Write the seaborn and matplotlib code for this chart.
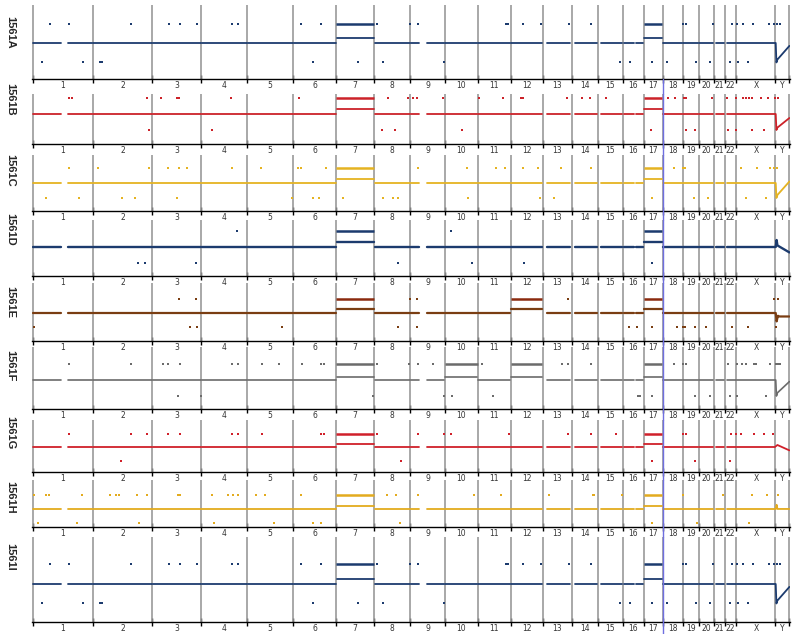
import matplotlib
matplotlib.use("Agg")
import matplotlib.pyplot as plt
import matplotlib.transforms as mtransforms
import numpy as np
import pandas as pd
import seaborn as sns

# ---------------- data ----------------
CHROMS = [str(i) for i in range(1, 23)] + ["X", "Y"]
CHROM_SIZE = [60, 60, 49, 46, 46, 43, 38, 36, 35, 33, 33, 32, 29, 26, 25, 21, 19, 20, 16, 15, 11, 12, 39, 14]
COVERED = {"1": [(0.5, 28), (35, 59.5)], "9": [(0.5, 9), (17, 34.5)], "13": [(4, 27.5)],
           "14": [(3, 25.5)], "15": [(3, 24.5)], "16": [(1, 11), (13, 20.5)],
           "21": [(2, 10)], "22": [(2, 11.5)]}

SAMPLES = ["1561A", "1561B", "1561C", "1561D", "1561E", "1561F", "1561G", "1561H", "1561I"]
COLORS = ["#1c3b6e", "#cc2229", "#e5b321", "#1c3b6e", "#7a3d12", "#6b6b6b", "#d0202a", "#e3ab1e", "#1c3b6e"]
BAR_COLORS = ["#1c3b6e", "#cc2229", "#e5b321", "#1c3b6e", "#8b2a0e", "#6b6b6b", "#d0202a", "#e3ab1e", "#1c3b6e"]

GAINS_A = {"7": 0.26, "17": 0.26}
GAINS_B = {"7": 0.31, "17": 0.3}
GAINS_C = {"7": 0.27, "17": 0.25}
GAINS_D = {"7": 0.3, "17": 0.3}
GAINS_E = {"7": 0.29, "12": 0.3, "17": 0.3}
GAINS_F = {"7": 0.2, "10": 0.2, "12": 0.2, "17": 0.2}
GAINS_G = {"7": 0.25, "17": 0.25}
GAINS_H = {"7": 0.24, "17": 0.24}
GAINS_I = {"7": 0.26, "17": 0.26}

TOP_A = [17, 36, 99, 137, 148, 165, 200, 206, 269, 289, 345, 378, 386, 474, 476, 491, 509, 537, 559,
         651, 654, 681, 701, 706, 712, 722, 738, 743, 746, 749]
BOT_A = [9, 50, 68, 70, 281, 326, 351, 412, 588, 598, 620, 635, 664, 678, 699, 707, 717]
TOP_B = [36, 39, 115, 129, 145, 147, 199, 267, 356, 376, 381, 385, 411, 447, 471, 489, 491, 535, 550,
         558, 574, 636, 643, 652, 654, 680, 696, 705, 712, 715, 718, 721, 730, 737, 744, 747]
BOT_B = [117, 180, 350, 363, 430, 619, 654, 663, 697, 705, 721, 733]
TOP_C = [36, 66, 117, 136, 147, 155, 200, 229, 266, 269, 294, 386, 435, 464, 473, 491, 506, 529, 559,
         642, 651, 653, 710, 726, 739, 743, 746]
BOT_C = [13, 46, 90, 103, 145, 260, 281, 287, 311, 351, 361, 366, 436, 508, 522, 620, 662, 676, 715, 735]
TOP_D = [205, 419]
BOT_D = [106, 113, 164, 366, 440, 492, 620]
TOP_E = [147, 164, 378, 385, 536, 743, 747]
BOT_E = [1, 158, 165, 250, 366, 385, 597, 605, 620, 645, 651, 653, 663, 674, 701, 717, 745]
TOP_F = [36, 99, 131, 136, 148, 200, 206, 230, 247, 270, 289, 292, 345, 377, 386, 401, 450, 530, 536,
         559, 642, 651, 654, 697, 706, 711, 715, 723, 725, 739, 745, 747, 749]
BOT_F = [146, 169, 341, 412, 420, 461, 606, 608, 620, 663, 678, 699, 706, 735]
TOP_G = [36, 99, 115, 136, 148, 200, 206, 230, 289, 292, 345, 386, 412, 419, 477, 536, 559, 584, 651,
         654, 700, 705, 710, 723, 733, 742]
BOT_G = [89, 369, 620, 663, 699]
TOP_H = [1, 13, 16, 49, 78, 84, 87, 105, 115, 146, 148, 180, 196, 201, 206, 224, 233, 269, 355, 364,
         386, 442, 469, 517, 561, 562, 590, 651, 691, 721, 736, 747]
BOT_H = [5, 44, 107, 182, 242, 281, 289, 368, 620, 665, 718]
TOP_I = list(TOP_A)
BOT_I = list(BOT_A)

# Y chromosome profile points (local position, value)
Y_A = [(0.3, 0.0), (1.0, -1.0), (2.0, -0.85), (14.0, -0.15)]
Y_B = [(0.3, 0.0), (1.0, -1.0), (2.0, -0.85), (14.0, -0.25)]
Y_C = [(0.3, 0.0), (1.0, -1.0), (2.0, -0.8), (14.0, 0.1)]
Y_D = [(0.3, 0.0), (1.2, 0.45), (2.0, 0.1), (14.0, -0.35)]
Y_E = [(0.3, 0.0), (1.2, -0.6), (2.5, -0.2), (4.0, -0.25), (14.0, -0.25)]
Y_F = [(0.3, 0.0), (1.0, -1.0), (2.0, -0.8), (14.0, -0.1)]
Y_G = [(0.3, 0.05), (2.0, 0.15), (14.0, -0.25)]
Y_H = [(0.3, 0.0), (1.2, 0.3), (2.0, 0.0), (14.0, 0.0)]
Y_I = list(Y_A)

GAINS = [GAINS_A, GAINS_B, GAINS_C, GAINS_D, GAINS_E, GAINS_F, GAINS_G, GAINS_H, GAINS_I]
TOPS = [TOP_A, TOP_B, TOP_C, TOP_D, TOP_E, TOP_F, TOP_G, TOP_H, TOP_I]
BOTS = [BOT_A, BOT_B, BOT_C, BOT_D, BOT_E, BOT_F, BOT_G, BOT_H, BOT_I]
YPTS = [Y_A, Y_B, Y_C, Y_D, Y_E, Y_F, Y_G, Y_H, Y_I]

# ---------------- layout ----------------
W, H = 795, 634
LEFT_PX, RIGHT_PX = 32, 790
ROWS = [(5, 79, -1.85, 1.95), (94, 144, -1.875, 1.25), (155, 211, -1.87, 1.87),
        (220, 276, -1.87, 1.74), (283, 341, -2.0, 2.14), (347, 409, -1.81, 2.06),
        (420, 472, -1.85, 2.0), (480, 527, -1.29, 2.07), (537, 622, -1.95, 2.41)]
LABEL_Y = [32, 99, 170, 229, 302, 366, 433, 497, 557]
LINE_W = [1.3, 1.3, 1.3, 1.7, 1.6, 1.2, 1.3, 1.3, 1.3]

sns.set_style("white")
plt.rcParams["font.family"] = ["DejaVu Sans"]

starts = np.concatenate([[0], np.cumsum(CHROM_SIZE)[:-1]])
ends = starts + np.array(CHROM_SIZE)
centers = (starts + ends) / 2.0
total = float(np.sum(CHROM_SIZE))
cidx = {c: i for i, c in enumerate(CHROMS)}

fig = plt.figure(figsize=(W / 100, H / 100), dpi=100)

for r, name in enumerate(SAMPLES):
    top, bot, ylo, yhi = ROWS[r]
    ax = fig.add_axes([LEFT_PX / W, 1 - bot / H, (RIGHT_PX - LEFT_PX) / W, (bot - top) / H])
    color = COLORS[r]
    gains = GAINS[r]

    # profile segments
    recs = []
    seg = 0
    for i, c in enumerate(CHROMS):
        if c == "Y":
            for p, v in YPTS[r]:
                recs.append((starts[i] + p, v, seg))
            seg += 1
            continue
        lvl = gains.get(c, 0.0)
        spans = COVERED.get(c, [(0.5, CHROM_SIZE[i] - 0.5)])
        for a, b in spans:
            recs.append((starts[i] + a, lvl, seg))
            recs.append((starts[i] + b, lvl, seg))
            seg += 1
    prof = pd.DataFrame(recs, columns=["pos", "val", "seg"])

    # chromosome boundaries
    ax.vlines(np.concatenate([starts, [total]]), ylo, yhi, color="#999999", lw=1.2, zorder=1)

    sns.lineplot(data=prof, x="pos", y="val", units="seg", estimator=None, sort=False,
                 color=color, lw=LINE_W[r], ax=ax, legend=False, zorder=3)

    # gain bars
    for c in gains:
        i = cidx[c]
        ax.hlines(1.0, starts[i] + 0.3, ends[i] - 0.3, color=BAR_COLORS[r], lw=1.8, zorder=3)

    # outlier dots
    dots = pd.DataFrame({"pos": TOPS[r] + BOTS[r],
                         "val": [1.0] * len(TOPS[r]) + [-1.0] * len(BOTS[r])})
    sns.scatterplot(data=dots, x="pos", y="val", color=color, s=2.0, marker="s",
                    linewidth=0, ax=ax, legend=False, zorder=4)

    ax.set_xlim(-0.6, total + 0.6)
    ax.set_ylim(ylo, yhi)
    ax.set_xlabel("")
    ax.set_ylabel("")
    ax.set_yticks([])
    for s in ["top", "left", "right"]:
        ax.spines[s].set_visible(False)
    ax.spines["bottom"].set_color("black")
    ax.spines["bottom"].set_linewidth(1.0)
    ax.set_xticks(np.concatenate([starts, [total]]))
    ax.set_xticklabels([])
    ax.tick_params(axis="x", which="major", direction="inout", length=6, width=1, color="black", bottom=True)
    ax.set_xticks(centers, minor=True)
    ax.set_xticklabels(CHROMS, minor=True, fontsize=5.5, color="#333333")
    ax.tick_params(axis="x", which="minor", length=0, pad=1.5)
    ax.set_facecolor("none")

    # sample label
    fig.text(10 / W, 1 - LABEL_Y[r] / H, name, rotation=270, ha="center", va="center",
             fontsize=8, fontweight="bold", family=["Liberation Sans", "DejaVu Sans"])

    # blue cursor line at 17/18 boundary
    i18 = cidx["18"]
    tr = mtransforms.blended_transform_factory(ax.transData, fig.transFigure)
    if r == 0:
        ytop = 1 - 79 / H
        ybot = 1 - 94 / H
    else:
        ytop = 1 - top / H
        ybot = 1 - (ROWS[r + 1][0] if r < len(SAMPLES) - 1 else H) / H
    ax.plot([starts[i18], starts[i18]], [ybot, ytop], transform=tr, color="#6f6fe0",
            lw=1.0, clip_on=False, zorder=5)

fig.savefig("out.png", dpi=100)
